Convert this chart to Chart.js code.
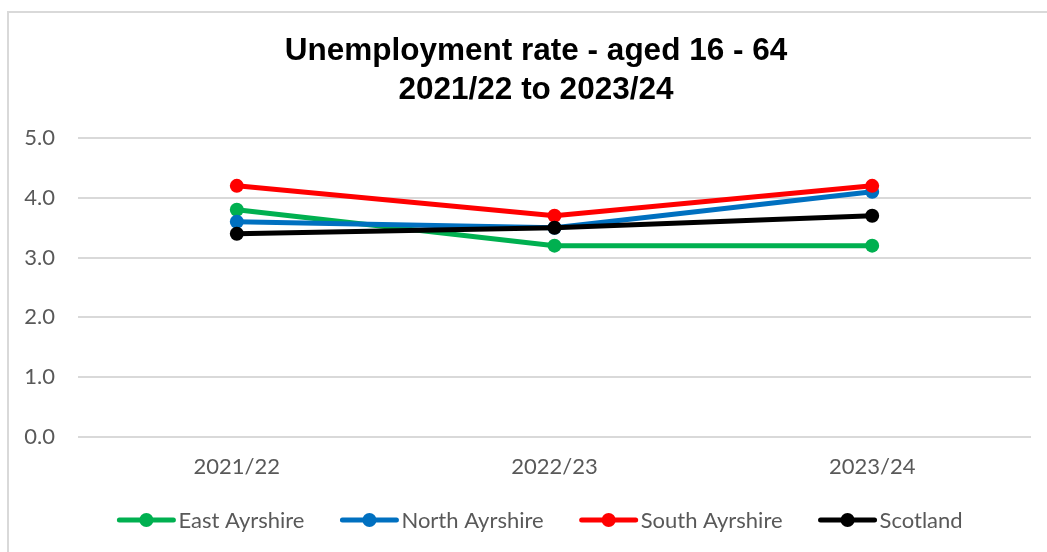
<!DOCTYPE html>
<html>
<head>
<meta charset="utf-8">
<script src="https://cdn.jsdelivr.net/npm/chart.js@4"></script>
<style>
  html, body { margin: 0; padding: 0; background: #ffffff; }
  #wrap { position: relative; width: 1047px; height: 552px; overflow: hidden; }
  #frame { position: absolute; left: 7px; top: 11px; width: 1100px; height: 600px; border: 2px solid #d9d9d9; box-sizing: border-box; }
  canvas { position: absolute; left: 0; top: 0; }
</style>
</head>
<body>
<div id="wrap">
  <div id="frame"></div>
  <canvas id="c" width="1047" height="552"></canvas>
</div>
<script>
const categories = ["2021/22", "2022/23", "2023/24"];
const titleLines = ["Unemployment rate - aged 16 - 64", "2021/22 to 2023/24"];
const seriesNames = ["East Ayrshire", "North Ayrshire", "South Ayrshire", "Scotland"];
const eastAyrshire = [3.8, 3.2, 3.2];
const northAyrshire = [3.6, 3.5, 4.1];
const southAyrshire = [4.2, 3.7, 4.2];
const scotland = [3.4, 3.5, 3.7];
const seriesColors = ["#00B050", "#0070C0", "#FF0000", "#000000"];
const yTicks = [0, 1, 2, 3, 4, 5];

const TEXT = "#595959";
const FONT = "Lato";

const seriesValues = [eastAyrshire, northAyrshire, southAyrshire, scotland];
const drawOrder = [3, 2, 1, 0];

const datasets = seriesNames.map((name, i) => ({
  label: name,
  data: seriesValues[i],
  borderColor: seriesColors[i],
  backgroundColor: seriesColors[i],
  pointBackgroundColor: seriesColors[i],
  pointBorderColor: seriesColors[i],
  borderWidth: 5,
  pointRadius: 7,
  pointBorderWidth: 0,
  pointHoverRadius: 7,
  tension: 0,
  fill: false,
  order: drawOrder[i]
}));

const titleText = {
  id: 'titleText',
  afterDraw(chart) {
    const ctx = chart.ctx;
    ctx.save();
    ctx.font = "bold 31.5px 'Liberation Sans', Arial, sans-serif";
    ctx.fillStyle = "#000000";
    ctx.textAlign = "center";
    ctx.textBaseline = "middle";
    const cx = 536, y0 = 51, lh = 39;
    titleLines.forEach((t, i) => ctx.fillText(t, cx, y0 + i * lh));
    ctx.restore();
  }
};

const lineLegend = {
  id: 'lineLegend',
  afterDraw(chart) {
    const ctx = chart.ctx;
    ctx.save();
    ctx.font = "22px " + FONT;
    ctx.textBaseline = "middle";
    ctx.textAlign = "left";
    const lineLen = 58, textGap = 3, itemGap = 36, cy = 520, centerX = 540;
    const items = chart.data.datasets.map(d => ({
      label: d.label, color: d.borderColor, w: lineLen + textGap + ctx.measureText(d.label).width
    }));
    const total = items.reduce((s, it) => s + it.w, 0) + itemGap * (items.length - 1);
    let x = centerX - total / 2;
    items.forEach(it => {
      ctx.strokeStyle = it.color;
      ctx.lineWidth = 5;
      ctx.lineCap = "round";
      ctx.beginPath();
      ctx.moveTo(x + 2, cy);
      ctx.lineTo(x + lineLen - 2, cy);
      ctx.stroke();
      ctx.fillStyle = it.color;
      ctx.beginPath();
      ctx.arc(x + lineLen / 2, cy, 7, 0, Math.PI * 2);
      ctx.fill();
      ctx.fillStyle = TEXT;
      ctx.fillText(it.label, x + lineLen + textGap, cy + 1);
      x += it.w + itemGap;
    });
    ctx.restore();
  }
};

new Chart(document.getElementById('c'), {
  type: 'line',
  data: { labels: categories, datasets },
  options: {
    responsive: false,
    animation: false,
    events: [],
    layout: { padding: { top: 138, left: 0, right: 16, bottom: 71 } },
    plugins: {
      legend: { display: false },
      tooltip: { enabled: false },
      title: { display: false }
    },
    scales: {
      x: {
        offset: true,
        grid: { display: false, drawTicks: false },
        border: { display: false },
        ticks: { color: TEXT, font: { family: FONT, size: 22 }, padding: 17 },
        afterFit: s => { s.height = 44; }
      },
      y: {
        min: 0, max: 5,
        afterBuildTicks: s => { s.ticks = yTicks.map(v => ({ value: v })); },
        grid: { color: "#d9d9d9", lineWidth: 2, drawTicks: false },
        border: { display: false },
        ticks: { color: TEXT, font: { family: FONT, size: 22 }, padding: 23, callback: v => Number(v).toFixed(1) },
        afterFit: s => { s.width = 78; }
      }
    }
  },
  plugins: [titleText, lineLegend]
});
</script>
</body>
</html>
